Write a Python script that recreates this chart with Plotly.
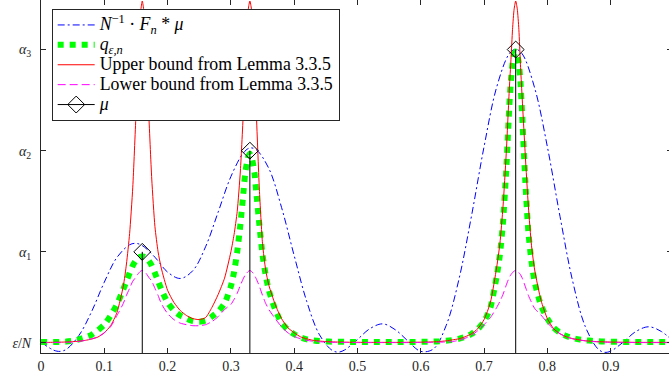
import plotly.graph_objects as go

# ---------------- data ----------------
x_fine = [
    0.00, 0.01, 0.02, 0.03, 0.04, 0.05, 0.06, 0.07, 0.08, 0.09, 0.10, 0.11, 0.12,
    0.13, 0.135, 0.14, 0.145, 0.15, 0.1525, 0.155, 0.1575, 0.16, 0.1625, 0.165, 0.1675, 0.17, 0.175, 0.18, 0.185, 0.19,
    0.20, 0.21, 0.22, 0.23, 0.24, 0.25, 0.26, 0.27, 0.28, 0.29,
    0.30, 0.305, 0.31, 0.315, 0.32, 0.3225, 0.325, 0.3275, 0.33, 0.3325, 0.335, 0.3375, 0.34, 0.345, 0.35, 0.355, 0.36,
    0.37, 0.38, 0.39, 0.40, 0.41, 0.42, 0.43, 0.44, 0.45, 0.46, 0.47, 0.48, 0.49, 0.50, 0.51, 0.52, 0.53, 0.54,
    0.55, 0.56, 0.57, 0.58, 0.59, 0.60, 0.61, 0.62, 0.63, 0.64, 0.65, 0.66, 0.67, 0.68, 0.69, 0.70, 0.71,
    0.72, 0.725, 0.73, 0.735, 0.74, 0.7425, 0.745, 0.7475, 0.75, 0.7525, 0.755, 0.7575, 0.76, 0.765, 0.77, 0.775, 0.78,
    0.79, 0.80, 0.81, 0.82, 0.83, 0.84, 0.85, 0.86, 0.87, 0.88, 0.89, 0.90, 0.91, 0.92, 0.93, 0.94, 0.95, 0.96,
    0.97, 0.98, 0.99, 1.00,
]

q_eps_n = [
    0.108, 0.108, 0.109, 0.110, 0.113, 0.120, 0.135, 0.155, 0.180, 0.225, 0.280, 0.370, 0.480,
    0.630, 0.710, 0.790, 0.865, 0.915, 0.932, 0.945, 0.952, 0.955, 0.952, 0.945, 0.932, 0.915, 0.865, 0.790, 0.710, 0.630,
    0.500, 0.420, 0.370, 0.340, 0.315, 0.310, 0.320, 0.360, 0.410, 0.490,
    0.660, 0.800, 1.000, 1.270, 1.600, 1.770, 1.870, 1.940, 1.970, 1.940, 1.870, 1.770, 1.600, 1.270, 0.970, 0.770, 0.620,
    0.430, 0.300, 0.230, 0.185, 0.155, 0.135, 0.125, 0.118, 0.114, 0.112, 0.111, 0.110, 0.109, 0.109, 0.108, 0.108, 0.108, 0.108,
    0.108, 0.108, 0.108, 0.109, 0.109, 0.110, 0.111, 0.113, 0.116, 0.121, 0.128, 0.140, 0.158, 0.188, 0.235, 0.310, 0.450,
    0.760, 0.970, 1.300, 1.800, 2.450, 2.700, 2.860, 2.950, 2.980, 2.950, 2.860, 2.680, 2.380, 1.720, 1.200, 0.900, 0.700,
    0.470, 0.340, 0.250, 0.200, 0.168, 0.148, 0.135, 0.126, 0.120, 0.116, 0.113, 0.111, 0.110, 0.109, 0.109, 0.108, 0.108, 0.108,
    0.108, 0.108, 0.108, 0.108,
]

upper_bound = [
    0.105, 0.105, 0.106, 0.107, 0.109, 0.112, 0.117, 0.125, 0.138, 0.158, 0.200, 0.270, 0.400,
    0.660, 0.880, 1.180, 1.640, 2.350, 2.720, 3.100, 3.380, 3.480, 3.380, 3.100, 2.750, 2.400, 1.720, 1.250, 1.000, 0.840,
    0.620, 0.500, 0.420, 0.370, 0.340, 0.330, 0.350, 0.450, 0.580, 0.740,
    1.000, 1.170, 1.400, 1.800, 2.420, 2.800, 3.120, 3.400, 3.480, 3.400, 3.100, 2.750, 2.400, 1.620, 1.080, 0.820, 0.670,
    0.480, 0.340, 0.250, 0.200, 0.160, 0.140, 0.125, 0.118, 0.113, 0.110, 0.108, 0.107, 0.106, 0.106, 0.105, 0.105, 0.105, 0.105,
    0.105, 0.105, 0.105, 0.106, 0.106, 0.107, 0.108, 0.110, 0.114, 0.120, 0.130, 0.140, 0.160, 0.190, 0.240, 0.330, 0.500,
    0.850, 1.080, 1.450, 1.970, 2.620, 2.900, 3.200, 3.400, 3.480, 3.400, 3.200, 2.850, 2.550, 1.970, 1.450, 1.060, 0.820,
    0.520, 0.340, 0.240, 0.190, 0.160, 0.142, 0.130, 0.121, 0.116, 0.112, 0.110, 0.108, 0.107, 0.106, 0.106, 0.105, 0.105, 0.105,
    0.105, 0.105, 0.105, 0.105,
]

lower_bound = [
    0.103, 0.103, 0.104, 0.105, 0.106, 0.108, 0.115, 0.125, 0.140, 0.160, 0.200, 0.260, 0.370,
    0.490, 0.570, 0.640, 0.710, 0.750, 0.775, 0.795, 0.810, 0.815, 0.810, 0.795, 0.775, 0.750, 0.710, 0.640, 0.570, 0.490,
    0.390, 0.330, 0.295, 0.280, 0.270, 0.270, 0.280, 0.310, 0.360, 0.430,
    0.480, 0.530, 0.590, 0.670, 0.740, 0.770, 0.790, 0.807, 0.815, 0.807, 0.790, 0.765, 0.735, 0.660, 0.570, 0.490, 0.430,
    0.340, 0.260, 0.200, 0.165, 0.140, 0.125, 0.116, 0.111, 0.108, 0.106, 0.105, 0.104, 0.104, 0.103, 0.103, 0.103, 0.103, 0.103,
    0.103, 0.103, 0.103, 0.103, 0.104, 0.104, 0.105, 0.106, 0.107, 0.109, 0.113, 0.125, 0.145, 0.175, 0.220, 0.280, 0.350,
    0.450, 0.510, 0.580, 0.670, 0.750, 0.775, 0.795, 0.810, 0.815, 0.810, 0.795, 0.775, 0.745, 0.660, 0.570, 0.500, 0.440,
    0.375, 0.300, 0.235, 0.190, 0.160, 0.140, 0.128, 0.120, 0.114, 0.110, 0.107, 0.106, 0.105, 0.104, 0.104, 0.103, 0.103, 0.103,
    0.103, 0.103, 0.103, 0.103,
]

x_blue = [
    0.00, 0.02, 0.03, 0.04, 0.06, 0.08, 0.10, 0.12, 0.14, 0.15, 0.16, 0.18, 0.20, 0.22, 0.24, 0.26, 0.28,
    0.30, 0.32, 0.33, 0.34, 0.36, 0.38, 0.40, 0.42, 0.44, 0.46, 0.47, 0.48, 0.50, 0.52, 0.54, 0.56, 0.58,
    0.60, 0.62, 0.64, 0.66, 0.68, 0.70, 0.72, 0.74, 0.75, 0.76, 0.78, 0.80, 0.82, 0.84, 0.86, 0.88, 0.89,
    0.90, 0.92, 0.94, 0.96, 0.98, 1.00,
]
fejer_conv = [
    0.108, 0.028, 0.016, 0.036, 0.174, 0.410, 0.700, 0.945, 1.070, 1.084, 1.062, 0.947, 0.800, 0.737, 0.815, 1.050, 1.395,
    1.744, 1.980, 2.027, 2.010, 1.824, 1.440, 0.963, 0.507, 0.180, 0.026, 0.009, 0.031, 0.134, 0.242, 0.288, 0.229, 0.117,
    0.016, 0.040, 0.270, 0.720, 1.350, 2.040, 2.630, 2.960, 3.004, 2.960, 2.620, 2.040, 1.350, 0.710, 0.260, 0.040, 0.007,
    0.018, 0.108, 0.213, 0.259, 0.213, 0.108,
]

mu_x = [0.16, 0.33, 0.75]
mu_alpha = [1.0, 2.0, 3.0]

y_tickvals = [0.1, 1.0, 2.0, 3.0]
y_ticktext = ["<i>ε</i>/<i>N</i>", "<i>α</i><sub>1</sub>", "<i>α</i><sub>2</sub>", "<i>α</i><sub>3</sub>"]
x_tickvals = [0, 0.1, 0.2, 0.3, 0.4, 0.5, 0.6, 0.7, 0.8, 0.9]
x_ticktext = ["0", "0.1", "0.2", "0.3", "0.4", "0.5", "0.6", "0.7", "0.8", "0.9"]

LG = '<span style="font-size:17.8px">%s</span>'
names = [
    LG % '<i>N</i><sup>−1</sup> · <i>F</i><sub><i>n</i></sub> * <i>μ</i>',
    LG % '<i>q</i><sub><i>ε,n</i></sub>',
    LG % 'Upper bound from Lemma 3.3.5',
    LG % 'Lower bound from Lemma 3.3.5',
    LG % '<i>μ</i>',
]

# ---------------- figure ----------------
AX = "#262626"
FONT = "Liberation Serif, serif"

fig = go.Figure()
fig.add_trace(go.Scatter(x=x_blue, y=fejer_conv, mode="lines", name=names[0],
                         line=dict(color="#0000ff", width=1, dash="7px,3px,2px,3px", shape="spline")))
fig.add_trace(go.Scatter(x=x_fine, y=q_eps_n, mode="lines", name=names[1],
                         line=dict(color="#00ff00", width=6, dash="dot", shape="spline", smoothing=0.6)))
fig.add_trace(go.Scatter(x=x_fine, y=upper_bound, mode="lines", name=names[2],
                         line=dict(color="#ff0000", width=1, shape="spline", smoothing=0.6)))
fig.add_trace(go.Scatter(x=x_fine, y=lower_bound, mode="lines", name=names[3],
                         line=dict(color="#ff00ff", width=1, dash="8px,4px", shape="spline", smoothing=0.6)))

stem_x, stem_y = [], []
for xv, av in zip(mu_x, mu_alpha):
    stem_x += [xv, xv, None]
    stem_y += [0, av, None]
fig.add_trace(go.Scatter(x=stem_x, y=stem_y, mode="lines", showlegend=False,
                         line=dict(color="black", width=1), hoverinfo="skip"))

mk_x, mk_y = [], []
for xv, av in zip(mu_x, mu_alpha):
    mk_x += [xv, None]
    mk_y += [av, None]
fig.add_trace(go.Scatter(x=mk_x[:-1], y=mk_y[:-1], mode="lines+markers", name=names[4],
                         line=dict(color="black", width=1),
                         marker=dict(symbol="diamond-open", size=13, color="black", line=dict(width=1, color="black"))))

# dummy trace for mirrored (top / right) tick axes
fig.add_trace(go.Scatter(x=[None], y=[None], xaxis="x2", yaxis="y2", showlegend=False, hoverinfo="skip"))

XR = [0, 0.9922]
YR = [0, 3.49]

fig.update_layout(
    width=669, height=380,
    margin=dict(l=41, r=0, t=0, b=27, pad=0),
    paper_bgcolor="white", plot_bgcolor="white",
    font=dict(family=FONT, size=14, color=AX),
    showlegend=True,
    legend=dict(x=0.017, y=0.9745, xanchor="left", yanchor="top",
                bgcolor="white", bordercolor=AX, borderwidth=1,
                font=dict(family=FONT, size=13, color="black"),
                itemwidth=37, tracegroupgap=0, traceorder="normal"),
    xaxis=dict(range=XR, tickvals=x_tickvals, ticktext=x_ticktext, ticks="inside", ticklen=5,
               tickcolor=AX, tickwidth=1, showline=True, linecolor=AX, linewidth=1,
               showgrid=False, zeroline=False, tickfont=dict(family=FONT, size=14, color=AX)),
    yaxis=dict(range=YR, tickvals=y_tickvals, ticktext=y_ticktext, ticks="inside", ticklen=5,
               tickcolor=AX, tickwidth=1, showline=True, linecolor=AX, linewidth=1,
               ticklabelstandoff=6,
               showgrid=False, zeroline=False, tickfont=dict(family=FONT, size=14, color=AX)),
    xaxis2=dict(range=XR, overlaying="x", side="top", tickvals=x_tickvals, ticks="inside", ticklen=5,
                tickcolor=AX, tickwidth=1, showticklabels=False, showline=False, showgrid=False, zeroline=False),
    yaxis2=dict(range=YR, overlaying="y", side="right", tickvals=y_tickvals, ticks="inside", ticklen=2,
                tickcolor=AX, tickwidth=1, showticklabels=False, showline=False, showgrid=False, zeroline=False),
)

fig.write_html("out.html")
